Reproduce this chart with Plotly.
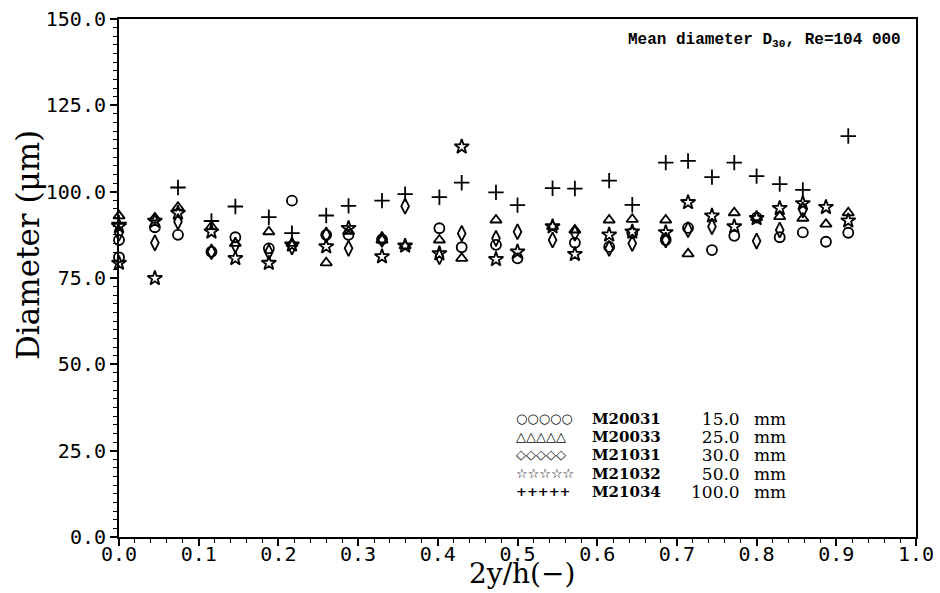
import plotly.graph_objects as go

# ---- data ----
circ_x = [0.0, 0.0, 0.045, 0.074, 0.116, 0.146, 0.188, 0.217, 0.26, 0.288, 0.33, 0.402, 0.43, 0.473, 0.50,
          0.572, 0.615, 0.644, 0.686, 0.714, 0.744, 0.772, 0.80, 0.829, 0.858, 0.887, 0.915]
circ_y = [86.0, 81.0, 89.7, 87.5, 82.6, 86.8, 83.6, 97.4, 87.5, 87.5, 86.2, 89.4, 83.9, 84.6, 80.7,
          85.2, 84.0, 88.0, 86.0, 89.5, 83.1, 87.2, 92.5, 86.8, 88.2, 85.5, 88.1]

tri_x = [0.0, 0.045, 0.074, 0.116, 0.146, 0.188, 0.217, 0.26, 0.288, 0.33, 0.359, 0.402, 0.43, 0.473,
         0.544, 0.572, 0.615, 0.644, 0.686, 0.714, 0.772, 0.80, 0.829, 0.858, 0.887, 0.915]
tri_y = [93.0, 92.4, 95.5, 89.9, 85.0, 88.4, 85.0, 79.4, 88.5, 86.0, 84.3, 86.0, 80.7, 91.8,
         89.9, 88.9, 91.8, 92.0, 91.8, 82.0, 93.9, 92.5, 92.8, 92.3, 90.6, 93.9]

dia_x = [0.0, 0.045, 0.074, 0.116, 0.146, 0.188, 0.217, 0.26, 0.288, 0.33, 0.359, 0.402, 0.43, 0.473,
         0.50, 0.544, 0.572, 0.615, 0.644, 0.686, 0.714, 0.744, 0.80, 0.829, 0.858]
dia_y = [88.0, 85.2, 91.3, 82.6, 84.5, 82.5, 84.0, 87.5, 83.6, 86.2, 95.8, 81.2, 87.9, 86.5,
         88.4, 86.0, 88.0, 83.6, 85.0, 86.0, 89.0, 89.9, 85.7, 88.9, 94.7]

star_x = [0.0, 0.0, 0.045, 0.045, 0.074, 0.116, 0.146, 0.188, 0.217, 0.26, 0.288, 0.33, 0.359, 0.402,
          0.43, 0.473, 0.50, 0.544, 0.572, 0.615, 0.644, 0.686, 0.714, 0.744, 0.772, 0.80, 0.829,
          0.858, 0.887, 0.915]
star_y = [90.0, 79.3, 91.5, 74.9, 93.8, 88.4, 80.7, 79.3, 84.6, 84.1, 89.4, 81.2, 84.3, 82.1,
          113.0, 80.4, 82.6, 89.9, 81.9, 87.5, 88.4, 88.2, 96.9, 93.0, 89.9, 92.3, 95.2,
          96.6, 95.5, 91.6]

plus_x = [0.0, 0.074, 0.116, 0.146, 0.188, 0.217, 0.26, 0.288, 0.33, 0.359, 0.402, 0.43, 0.473, 0.50,
          0.544, 0.572, 0.615, 0.644, 0.686, 0.714, 0.744, 0.772, 0.80, 0.829, 0.858, 0.915]
plus_y = [91.0, 101.2, 91.5, 95.7, 92.6, 88.0, 93.1, 95.9, 97.4, 99.3, 98.4, 102.6, 99.8, 96.1,
          101.0, 100.9, 103.2, 96.2, 108.4, 108.9, 104.2, 108.4, 104.5, 102.2, 100.5, 116.1]

series_names = ["M20031", "M20033", "M21031", "M21032", "M21034"]
series_dist = ["15.0", "25.0", "30.0", "50.0", "100.0"]
legend_syms = ["○○○○○", "△△△△△", "◇◇◇◇◇", "☆☆☆☆☆", "+++++"]

x_ticks = [0.0, 0.1, 0.2, 0.3, 0.4, 0.5, 0.6, 0.7, 0.8, 0.9, 1.0]
y_ticks = [0.0, 25.0, 50.0, 75.0, 100.0, 125.0, 150.0]

# ---- figure ----
fig = go.Figure()
specs = [
    (circ_x, circ_y, "circle-open", 10),
    (tri_x, tri_y, "triangle-up-open", 10),
    (dia_x, dia_y, "diamond-tall-open", 11),
    (star_x, star_y, "star-open", 11),
    (plus_x, plus_y, "cross-thin-open", 11),
]
for (xs, ys, sym, sz), nm in zip(specs, series_names):
    fig.add_trace(go.Scatter(
        x=xs, y=ys, mode="markers", name=nm, cliponaxis=False,
        marker=dict(symbol=sym, size=sz, color="black", line=dict(color="black", width=1.8)),
        showlegend=False))

tickfont = dict(family="DejaVu Sans Mono", size=20, color="black")
titlefont = dict(family="DejaVu Serif", size=28, color="black")

fig.update_xaxes(
    range=[0, 1], tickvals=x_ticks, ticktext=[f"{v:.1f}" for v in x_ticks],
    ticks="outside", ticklen=7, tickwidth=1.5, tickcolor="black", ticklabelstandoff=-9,
    ticklabeloverflow="allow",
    minor=dict(dtick=0.02, ticks="outside", ticklen=4, tickwidth=1.2, tickcolor="black"),
    showline=True, linecolor="black", linewidth=2, mirror=True, automargin=False,
    showgrid=False, zeroline=False, tickfont=tickfont)
fig.update_yaxes(
    range=[0, 150], tickvals=y_ticks, ticktext=[f"{v:.1f}" for v in y_ticks],
    ticks="outside", ticklen=7, tickwidth=1.5, tickcolor="black", ticklabeloverflow="allow",
    minor=dict(dtick=2.5, ticks="outside", ticklen=4, tickwidth=1.2, tickcolor="black"),
    showline=True, linecolor="black", linewidth=2, mirror=True, automargin=False,
    showgrid=False, zeroline=False, tickfont=tickfont)

ann = [
    dict(text="2y/h(−)", xref="paper", yref="paper", x=0.506, y=-0.0714,
         xanchor="center", yanchor="middle", showarrow=False, font=titlefont),
    dict(text="Diameter (μm)", xref="paper", yref="paper", x=-0.114, y=0.564,
         xanchor="center", yanchor="middle", textangle=-90, showarrow=False,
         font=dict(family="DejaVu Serif", size=31, color="black")),
    dict(text="<b>Mean diameter D<sub>30</sub>, Re=104 000</b>", xref="paper", yref="paper",
         x=0.984, y=0.959, xanchor="right", yanchor="middle", showarrow=False,
         font=dict(family="Liberation Mono", size=16, color="black")),
]

# legend block: one multi-line text per column (line pitch = 1.3 x base font size)
base = dict(size=14, color="black")
leg_y = 0.158


def col(lines, x, xanchor, family, px, bold=False):
    body = "<br>".join(lines)
    if bold:
        body = "<b>" + body + "</b>"
    body = f"<span style='font-size:{px}px'>" + body + "</span>"
    return dict(text=body, xref="paper", yref="paper", x=x, y=leg_y, xanchor=xanchor,
                yanchor="middle", align=xanchor, showarrow=False,
                font=dict(family=family, **base))


ann.append(col(legend_syms, 0.4956, "left", "DejaVu Sans", 13, bold=True))
ann.append(col(series_names, 0.591, "left", "DejaVu Serif", 15, bold=True))
ann.append(col(series_dist, 0.7817, "right", "DejaVu Serif", 17))
ann.append(col(["mm"] * len(series_names), 0.794, "left", "DejaVu Serif", 17))

fig.update_layout(
    width=940, height=593, margin=dict(l=119, r=24, t=19, b=56),
    paper_bgcolor="white", plot_bgcolor="white", annotations=ann)

fig.write_html("out.html", config={"displayModeBar": False},
               post_script="document.body.style.margin='0';")
